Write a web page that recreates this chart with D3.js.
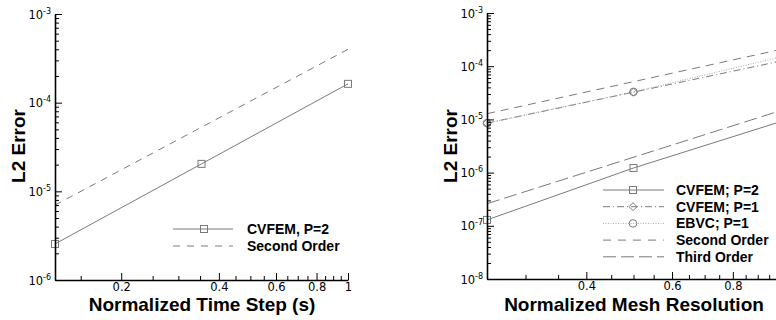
<!DOCTYPE html>
<html>
<head>
<meta charset="utf-8">
<script src="https://cdn.jsdelivr.net/npm/d3@7/dist/d3.min.js"></script>
<style>
  body { margin: 0; background: #fff; }
  svg { display: block; }
  .tick text { font-family: "DejaVu Sans", sans-serif; font-size: 11.5px; fill: #000; }
  .title { font-family: "Liberation Sans", Arial, sans-serif; font-weight: bold; font-size: 19px; }
  .leg { font-family: "Liberation Sans", Arial, sans-serif; font-weight: bold; font-size: 14px; }
</style>
</head>
<body>
<div id="chart"></div>
<script>
// ---- left panel data (time step study)
var timeSteps = [0.125, 0.3536, 1];
var cvfemTime = [2.55e-6, 2.04e-5, 1.63e-4];
var timeRefX = [0.125, 1];
var timeSecond = [7.0e-6, 4.0e-4];

// ---- right panel data (mesh study)
var meshRes = [0.25, 0.5, 1];
var cvfemP2 = [1.29e-7, 1.22e-6, 9.0e-6];
var cvfemP1 = [8.5e-6, 3.25e-5, 1.24e-4];
var ebvcP1 = [8.5e-6, 3.3e-5, 1.48e-4];
var meshRefX = [0.25, 1];
var meshSecond = [1.28e-5, 2.05e-4];
var meshThird = [2.6e-7, 1.45e-5];

// ---- ticks
var leftXMajor = [0.2, 0.4, 0.6, 0.8, 1];
var leftXMinor = [0.15, 0.25, 0.3, 0.35, 0.45, 0.5, 0.55, 0.65, 0.7, 0.75, 0.85, 0.9, 0.95];
var rightXMajor = [0.4, 0.6, 0.8];
var rightXMinor = [0.3, 0.35, 0.45, 0.5, 0.55, 0.65, 0.7, 0.75, 0.85, 0.9, 0.95];
var leftDecades = [1e-6, 1e-5, 1e-4, 1e-3];
var rightDecades = [1e-8, 1e-7, 1e-6, 1e-5, 1e-4, 1e-3];

var leftLegend = ["CVFEM, P=2", "Second Order"];
var rightLegend = ["CVFEM; P=2", "CVFEM; P=1", "EBVC; P=1", "Second Order", "Third Order"];

var gray = "#7a7a7a";

var svg = d3.select("#chart").append("svg")
    .attr("width", 776)
    .attr("height", 320);

function supLabels(g) {
    g.selectAll(".tick text").each(function(d) {
        var t = d3.select(this);
        var e = Math.round(Math.log10(d));
        t.text(null).attr("dy", "4px");
        t.append("tspan").text("10");
        t.append("tspan").attr("dy", -5).style("font-size", "8px").text(String(e));
    });
}

function minorTicks(v) {
    var out = [];
    v.ticks().forEach(function(t) {
        var m = Math.round(t / Math.pow(10, Math.floor(Math.log10(t) + 1e-9)));
        if (m != 1) out.push(t);
    });
    return out;
}

function drawAxes(x, y, xMajor, xMinor, decades, x0, yBottom) {
    var xa = svg.append("g").attr("transform", "translate(0," + yBottom + ")")
        .call(d3.axisBottom(x).tickValues(xMajor).tickFormat(d3.format("")).tickSizeInner(-7).tickSizeOuter(0).tickPadding(3));
    xa.select(".domain").attr("stroke-width", 1.6);
    var xm = svg.append("g").attr("transform", "translate(0," + yBottom + ")")
        .call(d3.axisBottom(x).tickValues(xMinor).tickFormat("").tickSize(-4));
    xm.select(".domain").remove();
    xm.selectAll("text").remove();

    var ya = svg.append("g").attr("transform", "translate(" + x0 + ",0)")
        .call(d3.axisLeft(y).tickValues(decades).tickSizeInner(-7).tickSizeOuter(0).tickPadding(4));
    ya.select(".domain").attr("stroke-width", 1.6);
    supLabels(ya);
    var ym = svg.append("g").attr("transform", "translate(" + x0 + ",0)")
        .call(d3.axisLeft(y).tickValues(minorTicks(y)).tickFormat("").tickSize(-4));
    ym.select(".domain").remove();
    ym.selectAll("text").remove();
}

function drawLine(x, y, xs, ys, dash, color) {
    var line = d3.line().x(function(d) { return x(d[0]); }).y(function(d) { return y(d[1]); });
    svg.append("path")
        .datum(d3.zip(xs, ys))
        .attr("d", line)
        .attr("fill", "none")
        .attr("stroke", color || gray)
        .attr("stroke-width", 1)
        .attr("stroke-dasharray", dash || null);
}

function marker(cx, cy, kind, color) {
    var c = color || gray;
    if (kind == "square") {
        svg.append("rect").attr("x", cx - 3.5).attr("y", cy - 3.5).attr("width", 7).attr("height", 7)
            .attr("fill", "none").attr("stroke", c);
    } else if (kind == "diamond") {
        svg.append("path").attr("d", "M" + cx + "," + (cy - 4) + "L" + (cx + 4) + "," + cy + "L" + cx + "," + (cy + 4) + "L" + (cx - 4) + "," + cy + "Z")
            .attr("fill", "none").attr("stroke", c);
    } else if (kind == "circle") {
        svg.append("circle").attr("cx", cx).attr("cy", cy).attr("r", 3.8)
            .attr("fill", "none").attr("stroke", c);
    }
}

// ================= left panel
var xL = d3.scaleLog().domain([0.125, 1]).range([55, 348]);
var yL = d3.scaleLog().domain([1e-6, 1e-3]).range([280, 14]);

drawLine(xL, yL, timeRefX, timeSecond, "7,6");
drawLine(xL, yL, timeSteps, cvfemTime);
timeSteps.forEach(function(t, i) { marker(xL(t), yL(cvfemTime[i]), "square"); });
drawAxes(xL, yL, leftXMajor, leftXMinor, leftDecades, 55, 280);

svg.append("text").attr("class", "title").attr("x", 202).attr("y", 311)
    .attr("text-anchor", "middle").text("Normalized Time Step (s)");
svg.append("text").attr("class", "title").attr("transform", "translate(25,146) rotate(-90)")
    .attr("text-anchor", "middle").text("L2 Error");

// left legend
var legL = [{dash: null, m: "square"}, {dash: "7,7", m: null}];
leftLegend.forEach(function(name, i) {
    var yy = 229 + i * 17;
    svg.append("line").attr("x1", 173).attr("x2", 233).attr("y1", yy).attr("y2", yy)
        .attr("stroke", gray).attr("stroke-dasharray", legL[i].dash);
    if (legL[i].m) marker(204, yy, legL[i].m);
    svg.append("text").attr("class", "leg").attr("x", 247).attr("y", yy + 5).text(name);
});

// ================= right panel
var xR = d3.scaleLog().domain([0.25, 1]).range([487, 780]);
var yR = d3.scaleLog().domain([1e-8, 1e-3]).range([279, 13]);

drawLine(xR, yR, meshRefX, meshSecond, "8,6");
drawLine(xR, yR, meshRefX, meshThird, "13,5");
drawLine(xR, yR, meshRes, cvfemP2);
drawLine(xR, yR, meshRes, cvfemP1, "7,3,1,3");
drawLine(xR, yR, meshRes, ebvcP1, "1,1.5", "#aaaaaa");
meshRes.forEach(function(r, i) {
    marker(xR(r), yR(cvfemP2[i]), "square");
    marker(xR(r), yR(cvfemP1[i]), "diamond");
    marker(xR(r), yR(ebvcP1[i]), "circle");
});
drawAxes(xR, yR, rightXMajor, rightXMinor, rightDecades, 487, 279);

svg.append("text").attr("class", "title").attr("x", 634).attr("y", 311)
    .attr("text-anchor", "middle").text("Normalized Mesh Resolution");
svg.append("text").attr("class", "title").attr("transform", "translate(457,146) rotate(-90)")
    .attr("text-anchor", "middle").text("L2 Error");

// right legend
var legR = [
    {dash: null, m: "square", c: gray},
    {dash: "7,3,1,3", m: "diamond", c: gray},
    {dash: "1,1.5", m: "circle", c: "#aaaaaa"},
    {dash: "8,7", m: null, c: gray},
    {dash: "13,5", m: null, c: gray}
];
rightLegend.forEach(function(name, i) {
    var yy = 190 + i * 16.7;
    svg.append("line").attr("x1", 603).attr("x2", 664).attr("y1", yy).attr("y2", yy)
        .attr("stroke", legR[i].c).attr("stroke-dasharray", legR[i].dash);
    if (legR[i].m) marker(633, yy, legR[i].m, legR[i].m == "circle" ? gray : legR[i].c);
    svg.append("text").attr("class", "leg").attr("x", 676).attr("y", yy + 5).text(name);
});
</script>
</body>
</html>
